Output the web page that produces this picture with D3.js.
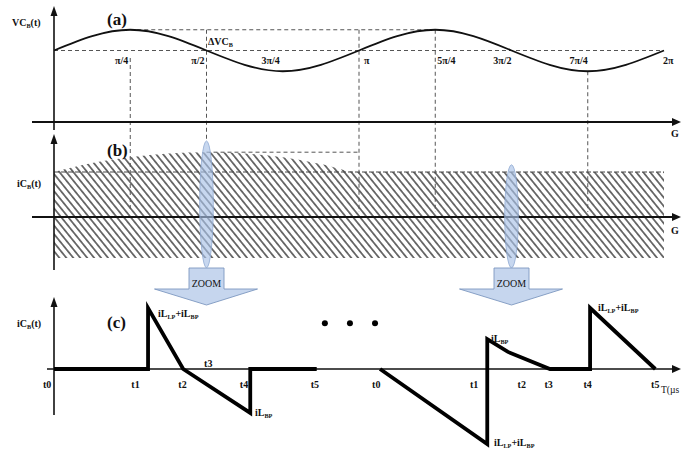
<!DOCTYPE html>
<html>
<head>
<meta charset="utf-8">
<script src="https://cdnjs.cloudflare.com/ajax/libs/d3/7.8.5/d3.min.js"></script>
<style>
  body { margin: 0; background: #fff; }
  svg { display: block; }
  text { font-family: "Liberation Serif", "Times New Roman", "DejaVu Serif", serif; font-weight: bold; fill: #111; }
</style>
</head>
<body>
<svg id="chart" width="681" height="451"></svg>
<script>
// ========== DATA ==========
// (a) capacitor voltage, sampled every pi/8 (k = 0..16 -> 0..2pi), zero of the axis = 0
const vcK      = [0, 1, 2, 3, 4, 5, 6, 7, 8, 9, 10, 11, 12, 13, 14, 15, 16];
const vcValues = [1, 1.2, 1.29, 1.2, 1, 0.8, 0.71, 0.8, 1, 1.2, 1.29, 1.2, 1, 0.8, 0.71, 0.8, 1];

const thetaTickK      = [2, 4, 6, 8, 10, 12, 14, 16];
const thetaTickLabels = ["π/4", "π/2", "3π/4", "π", "5π/4", "3π/2", "7π/4", "2π"];
const thetaTickDx     = [-2, -2, -3, 5, 2, 0, 0, -1];
const thetaTickAnchor = ["end", "end", "end", "start", "start", "end", "end", "start"];

// vertical guides (k, top in vc units, bottom in iC units of panel b)
const guideK    = [2, 4, 8, 10, 14];
const guideFrom = [0.895, 1.29, 1.29, 1.29, 0.71];
const guideTo   = [0.11, 1.69, 0.11, 0.11, 0.11];

// (b) capacitor current envelope (hatched band)
const bandK      = [0, 1, 2, 3, 4, 5, 6, 7, 8, 16];
const bandTop    = [1, 1.2, 1.33, 1.41, 1.44, 1.41, 1.33, 1.18, 1, 1];
const bandBottom = -0.91;

// zoom marks
const zoomK       = [4, 12];
const ellipseTop  = [1.69, 1.16];
const ellipseBot  = [-1.13, -1.13];

// (c) zoomed current, time in arbitrary units 0..100
const part1T = [0, 15.0, 15.0, 20.6, 31.3, 31.3, 41.9];
const part1I = [0, 0, 1, 0, -0.72, 0, 0];
const part2T = [52.0, 69.1, 69.1, 72.4, 79.1, 85.5, 85.5, 95.9];
const part2I = [0, -1.23, 0.49, 0.28, 0, 0, 1, 0];

const tLabels  = ["t0", "t1", "t2", "t4", "t5", "t0", "t1", "t2", "t3", "t4", "t5"];
const tLabelT  = [-1.1, 13.0, 20.5, 30.3, 41.6, 51.4, 67.0, 74.6, 78.9, 85.1, 95.9];
const dotsT    = [43.2, 47.2, 51.2];

// ========== SCALES ==========
const svg = d3.select("#chart");
const xA = d3.scaleLinear([0, 16], [54, 664]);
const yA = d3.scaleLinear([0, 1], [122, 50.5]);
const yB = d3.scaleLinear([0, 1], [217, 172]);
const xC = d3.scaleLinear([0, 100], [54, 681]);
const yC = d3.scaleLinear([0, 1], [369, 308]);

// hatch pattern
svg.append("defs").append("pattern")
  .attr("id", "hatch")
  .attr("patternUnits", "userSpaceOnUse")
  .attr("width", 5.4).attr("height", 10)
  .attr("patternTransform", "rotate(-39)")
  .append("line")
  .attr("x1", 2.7).attr("x2", 2.7).attr("y1", 0).attr("y2", 10)
  .attr("stroke", "#111").attr("stroke-width", 1.15);

// text with subscripts: parts = [[str, isSub], ...]
function label(x, y, parts, size, anchor) {
  const t = svg.append("text").attr("x", x).attr("y", y)
    .attr("font-size", size).attr("text-anchor", anchor || "start");
  let down = false;
  parts.forEach(([s, sub]) => {
    const sp = t.append("tspan").text(s);
    if (sub && !down) { sp.attr("dy", 2).attr("font-size", size * 0.62); down = true; }
    else if (sub) { sp.attr("font-size", size * 0.62); }
    else if (down) { sp.attr("dy", -2); down = false; }
  });
  return t;
}

const dash = "4,3";

// ========== PANEL (b) band ==========
const band = bandK.map((k, i) => ({ k, top: bandTop[i] }));
svg.append("path")
  .datum(band)
  .attr("d", d3.area().x(d => xA(d.k)).y0(yB(bandBottom)).y1(d => yB(d.top)).curve(d3.curveMonotoneX))
  .attr("fill", "url(#hatch)");

// dashed lines panel (b)
svg.append("line").attr("x1", xA(0)).attr("x2", xA(16)).attr("y1", yB(1)).attr("y2", yB(1))
  .attr("stroke", "#444").attr("stroke-width", 1).attr("stroke-dasharray", "5,2");
svg.append("line").attr("x1", xA(4)).attr("x2", xA(8)).attr("y1", yB(1.44)).attr("y2", yB(1.44))
  .attr("stroke", "#555").attr("stroke-width", 1).attr("stroke-dasharray", dash);

// ========== PANEL (a) guides ==========
svg.append("line").attr("x1", xA(2)).attr("x2", xA(10)).attr("y1", yA(1.29)).attr("y2", yA(1.29))
  .attr("stroke", "#555").attr("stroke-width", 1).attr("stroke-dasharray", dash);
svg.append("line").attr("x1", xA(0)).attr("x2", xA(16)).attr("y1", yA(1)).attr("y2", yA(1))
  .attr("stroke", "#555").attr("stroke-width", 1).attr("stroke-dasharray", dash);
guideK.forEach((k, i) => {
  svg.append("line").attr("x1", xA(k)).attr("x2", xA(k))
    .attr("y1", yA(guideFrom[i])).attr("y2", yB(guideTo[i]))
    .attr("stroke", "#555").attr("stroke-width", 1).attr("stroke-dasharray", dash);
});

// VC curve
svg.append("path")
  .datum(vcK.map((k, i) => [k, vcValues[i]]))
  .attr("d", d3.line().x(d => xA(d[0])).y(d => yA(d[1])).curve(d3.curveNatural))
  .attr("fill", "none").attr("stroke", "#111").attr("stroke-width", 1.8);

thetaTickK.forEach((k, i) => {
  svg.append("text").attr("x", xA(k) + thetaTickDx[i]).attr("y", 64)
    .attr("font-size", 10).attr("text-anchor", thetaTickAnchor[i]).text(thetaTickLabels[i]);
});

// ========== AXES ==========
function hAxis(y, x0, w) {
  svg.append("line").attr("x1", x0).attr("x2", 675).attr("y1", y).attr("y2", y)
    .attr("stroke", "#111").attr("stroke-width", w);
  svg.append("path").attr("d", `M672,${y - 4}L681,${y}L672,${y + 4}Z`).attr("fill", "#111");
}
function vAxis(x, yTop, yBot) {
  svg.append("line").attr("x1", x).attr("x2", x).attr("y1", yBot).attr("y2", yTop + 6)
    .attr("stroke", "#111").attr("stroke-width", 1.6);
  svg.append("path").attr("d", `M${x - 3.5},${yTop + 10}L${x},${yTop}L${x + 3.5},${yTop + 10}Z`).attr("fill", "#111");
}
hAxis(yA(0), 32, 2);
vAxis(xA(0), 6, 130);
hAxis(yB(0), 32, 1.8);
vAxis(xA(0), 134, 270);
hAxis(yC(0), 47, 1.6);
vAxis(xC(0), 297, 415);

svg.append("text").attr("x", 671).attr("y", 137).attr("font-size", 10).attr("fill", "#1a2238").text("G");
svg.append("text").attr("x", 671).attr("y", 234).attr("font-size", 10).attr("fill", "#1a2238").text("G");

// ========== ZOOM marks ==========
zoomK.forEach((k, i) => {
  const cx = xA(k);
  const top = yB(ellipseTop[i]), bot = yB(ellipseBot[i]);
  svg.append("ellipse").attr("cx", cx).attr("cy", (top + bot) / 2)
    .attr("rx", 6.8).attr("ry", (bot - top) / 2)
    .attr("fill", "#a9c1e6").attr("fill-opacity", 0.65)
    .attr("stroke", "#8fa9d2").attr("stroke-width", 0.8);
  const pts = [[-17.5, 268], [17.5, 268], [17.5, 289], [51, 289], [0, 305], [-52, 289], [-17.5, 289]];
  svg.append("polygon")
    .attr("points", pts.map(p => `${cx + p[0]},${p[1]}`).join(" "))
    .attr("fill", "#c6d6ee").attr("stroke", "#7d97bf").attr("stroke-width", 0.9);
  svg.append("text").attr("x", cx).attr("y", 287).attr("text-anchor", "middle")
    .attr("font-size", 10).style("font-weight", "normal")
    .attr("fill", "#222").text("ZOOM");
});

// ========== PANEL (c) ==========
const lineC = d3.line().x(d => xC(d[0])).y(d => yC(d[1]));
[[part1T, part1I], [part2T, part2I]].forEach(([ts, is]) => {
  svg.append("path")
    .datum(ts.map((t, i) => [t, is[i]]))
    .attr("d", lineC)
    .attr("fill", "none").attr("stroke", "#000").attr("stroke-width", 3.8)
    .attr("stroke-linejoin", "miter").attr("stroke-miterlimit", 10);
});

tLabels.forEach((s, i) => {
  svg.append("text").attr("x", xC(tLabelT[i])).attr("y", 388)
    .attr("font-size", 10).attr("text-anchor", "middle").text(s);
});
svg.append("text").attr("x", xC(24.6)).attr("y", 367).attr("font-size", 10)
  .attr("text-anchor", "middle").text("t3");
svg.append("text").attr("x", 661).attr("y", 393).attr("font-size", 9.5)
  .style("font-weight", "normal").text("T(µs");

dotsT.forEach(t => {
  svg.append("circle").attr("cx", xC(t)).attr("cy", yC(0.75)).attr("r", 3).attr("fill", "#000");
});

label(158, 317, [["iL"], ["LP", 1], ["+iL"], ["BP", 1]], 10);
label(255, 416, [["iL"], ["BP", 1]], 10);
label(491, 342, [["iL"], ["BP", 1]], 10);
label(494, 446, [["iL"], ["LP", 1], ["+iL"], ["BP", 1]], 10);
label(598, 311, [["iL"], ["LP", 1], ["+iL"], ["BP", 1]], 10);

// ========== TITLES ==========
label(12, 26, [["VC"], ["B", 1], ["(t)"]], 10);
label(17, 187, [["iC"], ["B", 1], ["(t)"]], 10);
label(17, 327, [["iC"], ["B", 1], ["(t)"]], 10);
label(208, 45, [["ΔVC"], ["B", 1]], 10);
svg.append("text").attr("x", 107).attr("y", 25).attr("font-size", 17).attr("fill", "#1a2238").text("(a)");
svg.append("text").attr("x", 107).attr("y", 156).attr("font-size", 17).attr("fill", "#1a2238").text("(b)");
svg.append("text").attr("x", 107).attr("y", 328).attr("font-size", 17).attr("fill", "#1a2238").text("(c)");
</script>
</body>
</html>
